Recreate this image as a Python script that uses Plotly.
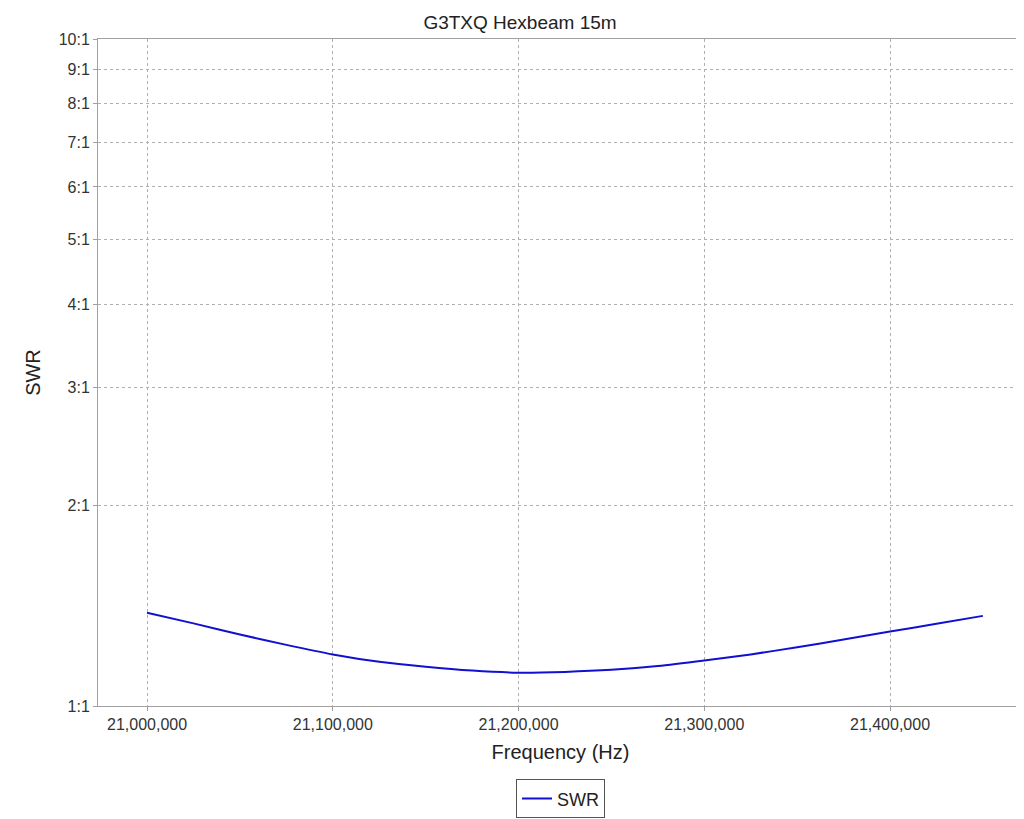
import plotly.graph_objects as go

freq = [21000000, 21025000, 21050000, 21075000, 21100000, 21125000, 21150000, 21175000, 21200000,
        21225000, 21250000, 21275000, 21300000, 21325000, 21350000, 21375000, 21400000, 21425000, 21450000]
swr = [1.38, 1.33, 1.28, 1.235, 1.195, 1.165, 1.145, 1.13, 1.122,
       1.125, 1.133, 1.148, 1.17, 1.195, 1.225, 1.258, 1.293, 1.328, 1.365]
ytick_vals = [1, 2, 3, 4, 5, 6, 7, 8, 9, 10]
ytick_text = ["1:1", "2:1", "3:1", "4:1", "5:1", "6:1", "7:1", "8:1", "9:1", "10:1"]
xtick_vals = [21000000, 21100000, 21200000, 21300000, 21400000]
xtick_text = ["21,000,000", "21,100,000", "21,200,000", "21,300,000", "21,400,000"]

fig = go.Figure(go.Scatter(x=freq, y=swr, mode="lines", name="SWR",
                           line=dict(color="#1010d0", width=2, shape="spline", smoothing=0.8)))
grid = dict(showgrid=True, gridcolor="#b0b0b0", griddash="dot", gridwidth=1,
            showline=True, linecolor="#a0a0a0", mirror=True, ticks="outside",
            ticklen=4, tickcolor="#a0a0a0", zeroline=False)
fig.update_layout(
    width=1024, height=819, paper_bgcolor="white", plot_bgcolor="white",
    font=dict(family="Liberation Sans, Arial", color="#333", size=16),
    margin=dict(l=90, r=9, t=31, b=105),
    title=dict(text="G3TXQ Hexbeam 15m", x=0.5, xanchor="center", y=0.99, yanchor="top",
               font=dict(size=19, color="#222")),
    xaxis=dict(range=[20973600, 21471600], tickvals=xtick_vals, ticktext=xtick_text,
               title=dict(text="Frequency (Hz)", font=dict(size=20, color="#222"), standoff=12), **grid),
    yaxis=dict(type="log", range=[0, 1], tickvals=ytick_vals, ticktext=ytick_text,
               title=dict(text="SWR", font=dict(size=20, color="#222"), standoff=12), **grid),
    showlegend=True,
    legend=dict(x=0.5, xanchor="center", y=-0.11, yanchor="top", orientation="h",
                bordercolor="#555", borderwidth=1, font=dict(size=18, color="#222"),
                itemwidth=30),
)
fig.write_html("out.html")
